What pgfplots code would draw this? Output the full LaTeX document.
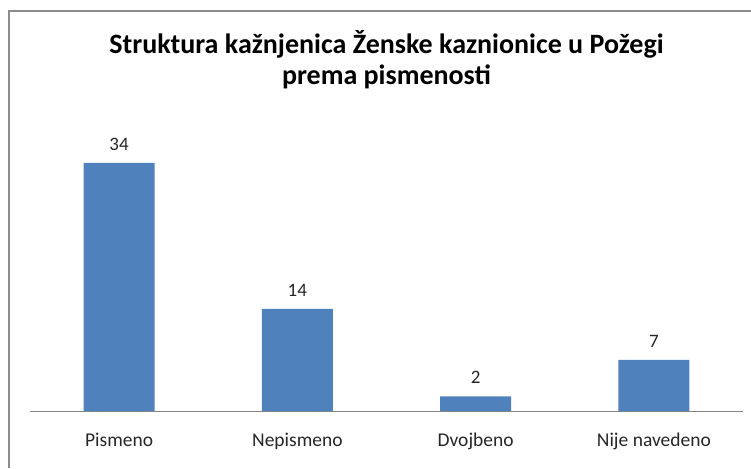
\documentclass[border=0pt]{standalone}
\usepackage{pgfplots}
\pgfplotsset{compat=1.18}
\usepackage{fontspec}
\setmainfont{Carlito}
\definecolor{barblue}{HTML}{4F81BD}
\definecolor{framegray}{HTML}{8C8C8C}
\definecolor{axgray}{HTML}{868686}
\begin{document}
\begin{tikzpicture}[x=1pt,y=1pt]
\useasboundingbox (0,0) rectangle (751,468);
\draw[framegray,line width=2pt] (9,0) -- (9,457) -- (751,457);
\begin{axis}[
  at={(30pt,57pt)}, anchor=south west,
  scale only axis, width=713pt, height=292pt,
  xmin=-0.5, xmax=3.5, ymin=0, ymax=40,
  ybar, bar width=71pt,
  hide y axis,
  axis x line*=bottom,
  x axis line style={axgray, line width=0.8pt, -},
  xtick=data,
  xticklabels={Pismeno,Nepismeno,Dvojbeno,Nije navedeno},
  xtick style={draw=none},
  xticklabel style={font=\fontsize{19.5}{22}\selectfont, text=black!85, yshift=-14pt},
  /pgf/number format/assume math mode=true,
  nodes near coords,
  nodes near coords style={font=\fontsize{19}{22}\selectfont, text=black!85, yshift=9pt},
  title={Struktura kažnjenica Ženske kaznionice u Požegi\\prema pismenosti},
  title style={font=\bfseries\fontsize{28}{31}\selectfont, align=center, at={(0.5,1)}, yshift=21pt, anchor=south},
]
\addplot[fill=barblue, draw=none] coordinates {(0,34) (1,14) (2,2) (3,7)};
\end{axis}
\end{tikzpicture}
\end{document}
